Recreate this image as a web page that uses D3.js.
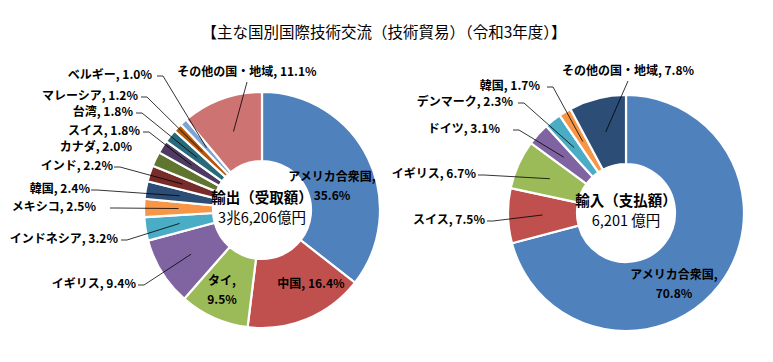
<!DOCTYPE html>
<html><head><meta charset="utf-8">
<script src="https://cdn.jsdelivr.net/npm/d3@7"></script>
<style>
html,body{margin:0;padding:0;background:#fff;}
svg{display:block;}
text{font-family:"Noto Sans CJK JP","Noto Sans",sans-serif;}
</style></head>
<body>
<svg id="chart" width="773" height="362"></svg>
<script>
// ---- data ----
const title = "【主な国別国際技術交流（技術貿易）（令和3年度）】";

const exportCategories = ["アメリカ合衆国","中国","タイ","イギリス","インドネシア","メキシコ","韓国","インド","カナダ","スイス","台湾","マレーシア","ベルギー","その他の国・地域"];
const exportValues = [35.6,16.4,9.5,9.4,3.2,2.5,2.4,2.2,2.0,1.8,1.8,1.2,1.0,11.1];
const exportColors = ["#4F81BD","#C0504D","#9BBB59","#8064A2","#4BACC6","#F79646","#2C4D75","#772C2A","#5F7530","#4D3B62","#276A7C","#B65708","#7FA4D3","#CD7371"];
const exportCenter = ["輸出（受取額）","3兆6,206億円"];

const importCategories = ["アメリカ合衆国","スイス","イギリス","ドイツ","デンマーク","韓国","その他の国・地域"];
const importValues = [70.8,7.5,6.7,3.1,2.3,1.7,7.8];
const importColors = ["#4F81BD","#C0504D","#9BBB59","#8064A2","#4BACC6","#F79646","#2C4D75"];
const importCenter = ["輸入（支払額）","6,201 億円"];

// ---- layout (positions of labels, not data) ----
const exportLabelLayout = [
  {mode:"in",  x:332, y:178},
  {mode:"in1", x:311, y:285},
  {mode:"in",  x:222, y:282},
  {mode:"out", x:136, y:285, gap:2},
  {mode:"out", x:118, y:240, gap:3},
  {mode:"out", x:96,  y:208, gap:14},
  {mode:"out", x:90,  y:190, gap:1},
  {mode:"out", x:113, y:167, gap:1},
  {mode:"out", x:132, y:148, noLine:true},
  {mode:"out", x:140, y:132, gap:3},
  {mode:"out", x:133, y:113, gap:3},
  {mode:"out", x:138, y:97,  gap:3},
  {mode:"out", x:152, y:76,  gap:5},
  {mode:"top", x:247, y:73}
];
const importLabelLayout = [
  {mode:"in",  x:674, y:276},
  {mode:"out", x:485, y:221, gap:2},
  {mode:"out", x:476, y:175, gap:2},
  {mode:"out", x:500, y:130, gap:13},
  {mode:"out", x:513, y:103, gap:5},
  {mode:"out", x:540, y:87,  gap:7},
  {mode:"top", x:628, y:72}
];

const svg = d3.select("#chart");
svg.append("text").attr("x",384).attr("y",34).attr("text-anchor","middle")
  .attr("dominant-baseline","middle").attr("font-size",15.5).attr("fill","#000").text(title);

function donut(cx, cy, rOuter, rInner, cats, vals, colors, layout, center){
  const g = svg.append("g").attr("transform",`translate(${cx},${cy})`);
  const pie = d3.pie().sort(null).value(d=>d)(vals);
  const arc = d3.arc().innerRadius(rInner).outerRadius(rOuter);
  const midArc = d3.arc().innerRadius((rInner+rOuter)/2).outerRadius((rInner+rOuter)/2);
  g.selectAll("path.slice").data(pie).join("path").attr("class","slice")
    .attr("d",arc).attr("fill",(d,i)=>colors[i]).attr("stroke","#fff").attr("stroke-width",2.2)
    .attr("stroke-linejoin","miter");
  pie.forEach((d,i)=>{
    const L = layout[i];
    const c = midArc.centroid(d);
    const px = cx + c[0], py = cy + c[1];
    if(L.mode==="out" && !L.noLine){
      const x0 = L.x + L.gap;
      svg.append("polyline").attr("points",`${x0},${L.y} ${x0+6},${L.y} ${px},${py}`)
        .attr("fill","none").attr("stroke","#000").attr("stroke-width",0.8);
    } else if(L.mode==="top"){
      svg.append("line").attr("x1",L.x).attr("y1",L.y+9).attr("x2",px).attr("y2",py)
        .attr("stroke","#000").attr("stroke-width",0.8);
    }
  });
  pie.forEach((d,i)=>{
    const L = layout[i];
    const pct = vals[i].toFixed(1)+"%";
    const t = svg.append("text").attr("font-size",12).attr("font-weight","bold").attr("fill","#000")
      .attr("dominant-baseline","middle");
    if(L.mode==="in"){
      t.attr("text-anchor","middle");
      t.append("tspan").attr("x",L.x).attr("y",L.y).text(cats[i]+",");
      t.append("tspan").attr("x",L.x).attr("y",L.y+19).text(pct);
    } else if(L.mode==="in1" || L.mode==="top"){
      t.attr("text-anchor","middle").attr("x",L.x).attr("y",L.y).text(cats[i]+", "+pct);
    } else {
      t.attr("text-anchor","end").attr("x",L.x).attr("y",L.y).text(cats[i]+", "+pct);
    }
  });
  const ct = svg.append("text").attr("text-anchor","middle").attr("font-size",14.5).attr("fill","#000")
    .attr("dominant-baseline","middle");
  ct.append("tspan").attr("x",cx).attr("y",cy-11).attr("font-weight","bold").text(center[0]);
  ct.append("tspan").attr("x",cx).attr("y",cy+9).text(center[1]);
}

donut(262, 210, 118, 49, exportCategories, exportValues, exportColors, exportLabelLayout, exportCenter);
donut(626, 213, 118, 49, importCategories, importValues, importColors, importLabelLayout, importCenter);
</script>
</body></html>
